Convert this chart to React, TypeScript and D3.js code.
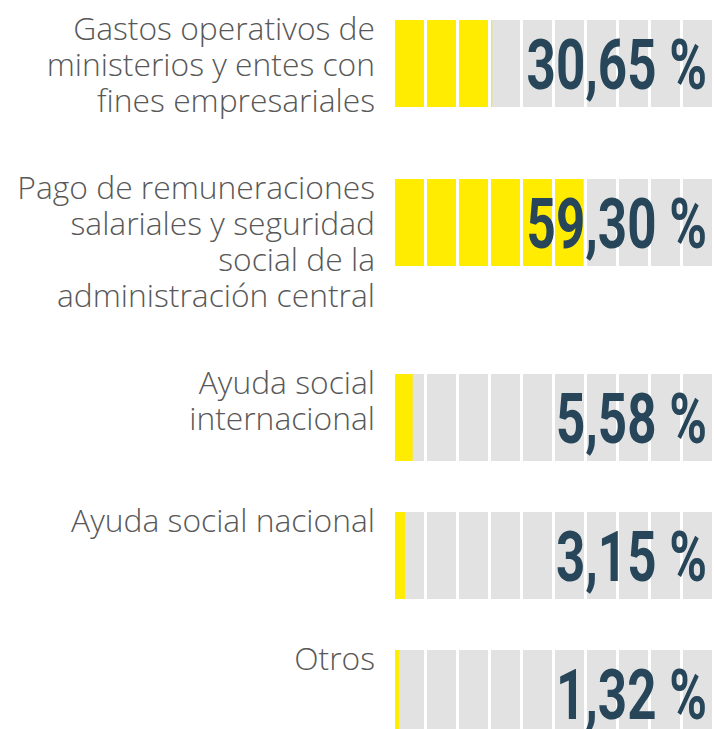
import React from "react";
import * as d3 from "d3";

// categories (label lines) and their shares, in percent
const labels: string[][] = [
  ["Gastos operativos de", "ministerios y entes con", "fines empresariales"],
  ["Pago de remuneraciones", "salariales y seguridad", "social de la", "administración central"],
  ["Ayuda social", "internacional"],
  ["Ayuda social nacional"],
  ["Otros"],
];
const values: number[] = [30.65, 59.3, 5.58, 3.15, 1.32];
const valueLabels: string[] = ["30,65 %", "59,30 %", "5,58 %", "3,15 %", "1,32 %"];
const cells = d3.range(10); // each cell = 10 %

const W = 714;
const H = 729;
const barLeft = 395;
const barRight = 712;
const barH = 87;
const lineH = 36;
const rowGap = 51;
const firstTop = 20;
const labelRight = 375;

const App: React.FC = () => {
  const x = d3.scaleLinear().domain([0, 100]).range([barLeft, barRight]);
  const cellScale = d3
    .scaleBand<number>()
    .domain(cells)
    .range([barLeft, barRight])
    .paddingInner(3 / 32);

  // stack rows by label height
  const tops: number[] = [];
  let y = firstTop;
  labels.forEach((lines) => {
    tops.push(y);
    y += Math.max(barH, lines.length * lineH) + rowGap;
  });

  return (
    <svg width={W} height={H} style={{ position: "absolute", left: 0, top: 0 }}>
      {values.map((v, i) => {
        const top = tops[i];
        const fillEnd = x(v);
        return (
          <g key={i}>
            {labels[i].map((line, j) => (
              <text
                key={j}
                x={labelRight}
                y={top + 20 + j * lineH}
                textAnchor="end"
                fontFamily="'Open Sans', sans-serif"
                fontWeight={300}
                fontSize={31.8}
                fill="#585858"
              >
                {line}
              </text>
            ))}
            {cells.map((c) => {
              const cx = cellScale(c)!;
              const bw = cellScale.bandwidth();
              const yellowW = Math.max(0, Math.min(bw, fillEnd - cx));
              return (
                <g key={c}>
                  <rect x={cx} y={top} width={bw} height={barH} fill="#e2e2e2" />
                  {yellowW > 0 && (
                    <rect x={cx} y={top} width={yellowW} height={barH} fill="#ffec00" />
                  )}
                </g>
              );
            })}
            <g transform={`translate(707,${top + 69}) scale(0.72,1)`}>
              <text
                textAnchor="end"
                fontFamily="Roboto, sans-serif"
                fontWeight={700}
                fontSize={71}
                fill="#27465a"
              >
                {valueLabels[i]}
              </text>
            </g>
          </g>
        );
      })}
    </svg>
  );
};

export default App;
